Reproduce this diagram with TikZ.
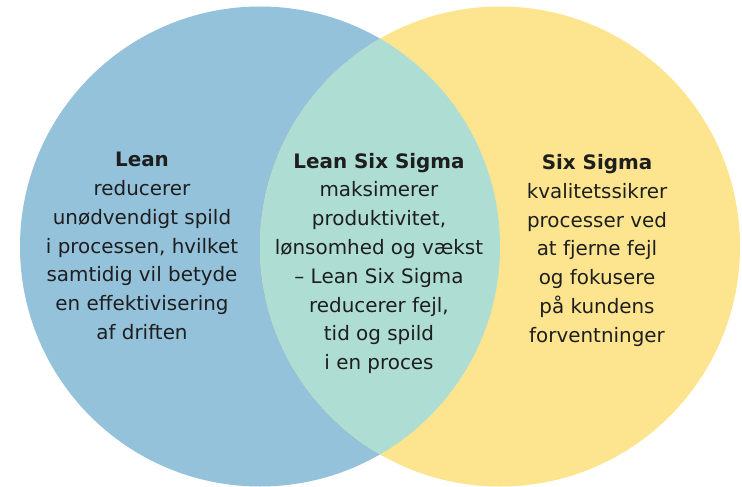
\documentclass[tikz,border=0pt]{standalone}
\usepackage{fontspec}
\setmainfont{DejaVu Sans}
\definecolor{leanblue}{HTML}{94C2DB}
\definecolor{sigmayellow}{HTML}{FDE58F}
\definecolor{overlapteal}{HTML}{AEDDD3}
\definecolor{txt}{HTML}{1E1E1E}
\begin{document}
\begin{tikzpicture}[x=1pt,y=-1pt,
  txtbox/.style={align=center,text=txt,font=\fontsize{19.9}{28.8}\selectfont,inner sep=0pt}]
\useasboundingbox (0,0) rectangle (742,487);
\fill[leanblue] (260,246.5) circle[radius=240];
\fill[sigmayellow] (500,246.5) circle[radius=240];
\begin{scope}
  \clip (260,246.5) circle[radius=240];
  \fill[overlapteal] (500,246.5) circle[radius=240];
\end{scope}
\node[txtbox] (lean) at (142,246) {\textbf{Lean}\\reducerer\\unødvendigt spild\\i processen, hvilket\\samtidig vil betyde\\en effektivisering\\af driften};
\node[txtbox] (lss) at (379,263.5) {\textbf{Lean Six Sigma}\\maksimerer\\produktivitet,\\lønsomhed og vækst\\– Lean Six Sigma\\reducerer fejl,\\tid og spild\\i en proces};
\node[txtbox] (ss) at (597,250.5) {\textbf{Six Sigma}\\kvalitetssikrer\\processer ved\\at fjerne fejl\\og fokusere\\på kundens\\forventninger};
\end{tikzpicture}
\end{document}
